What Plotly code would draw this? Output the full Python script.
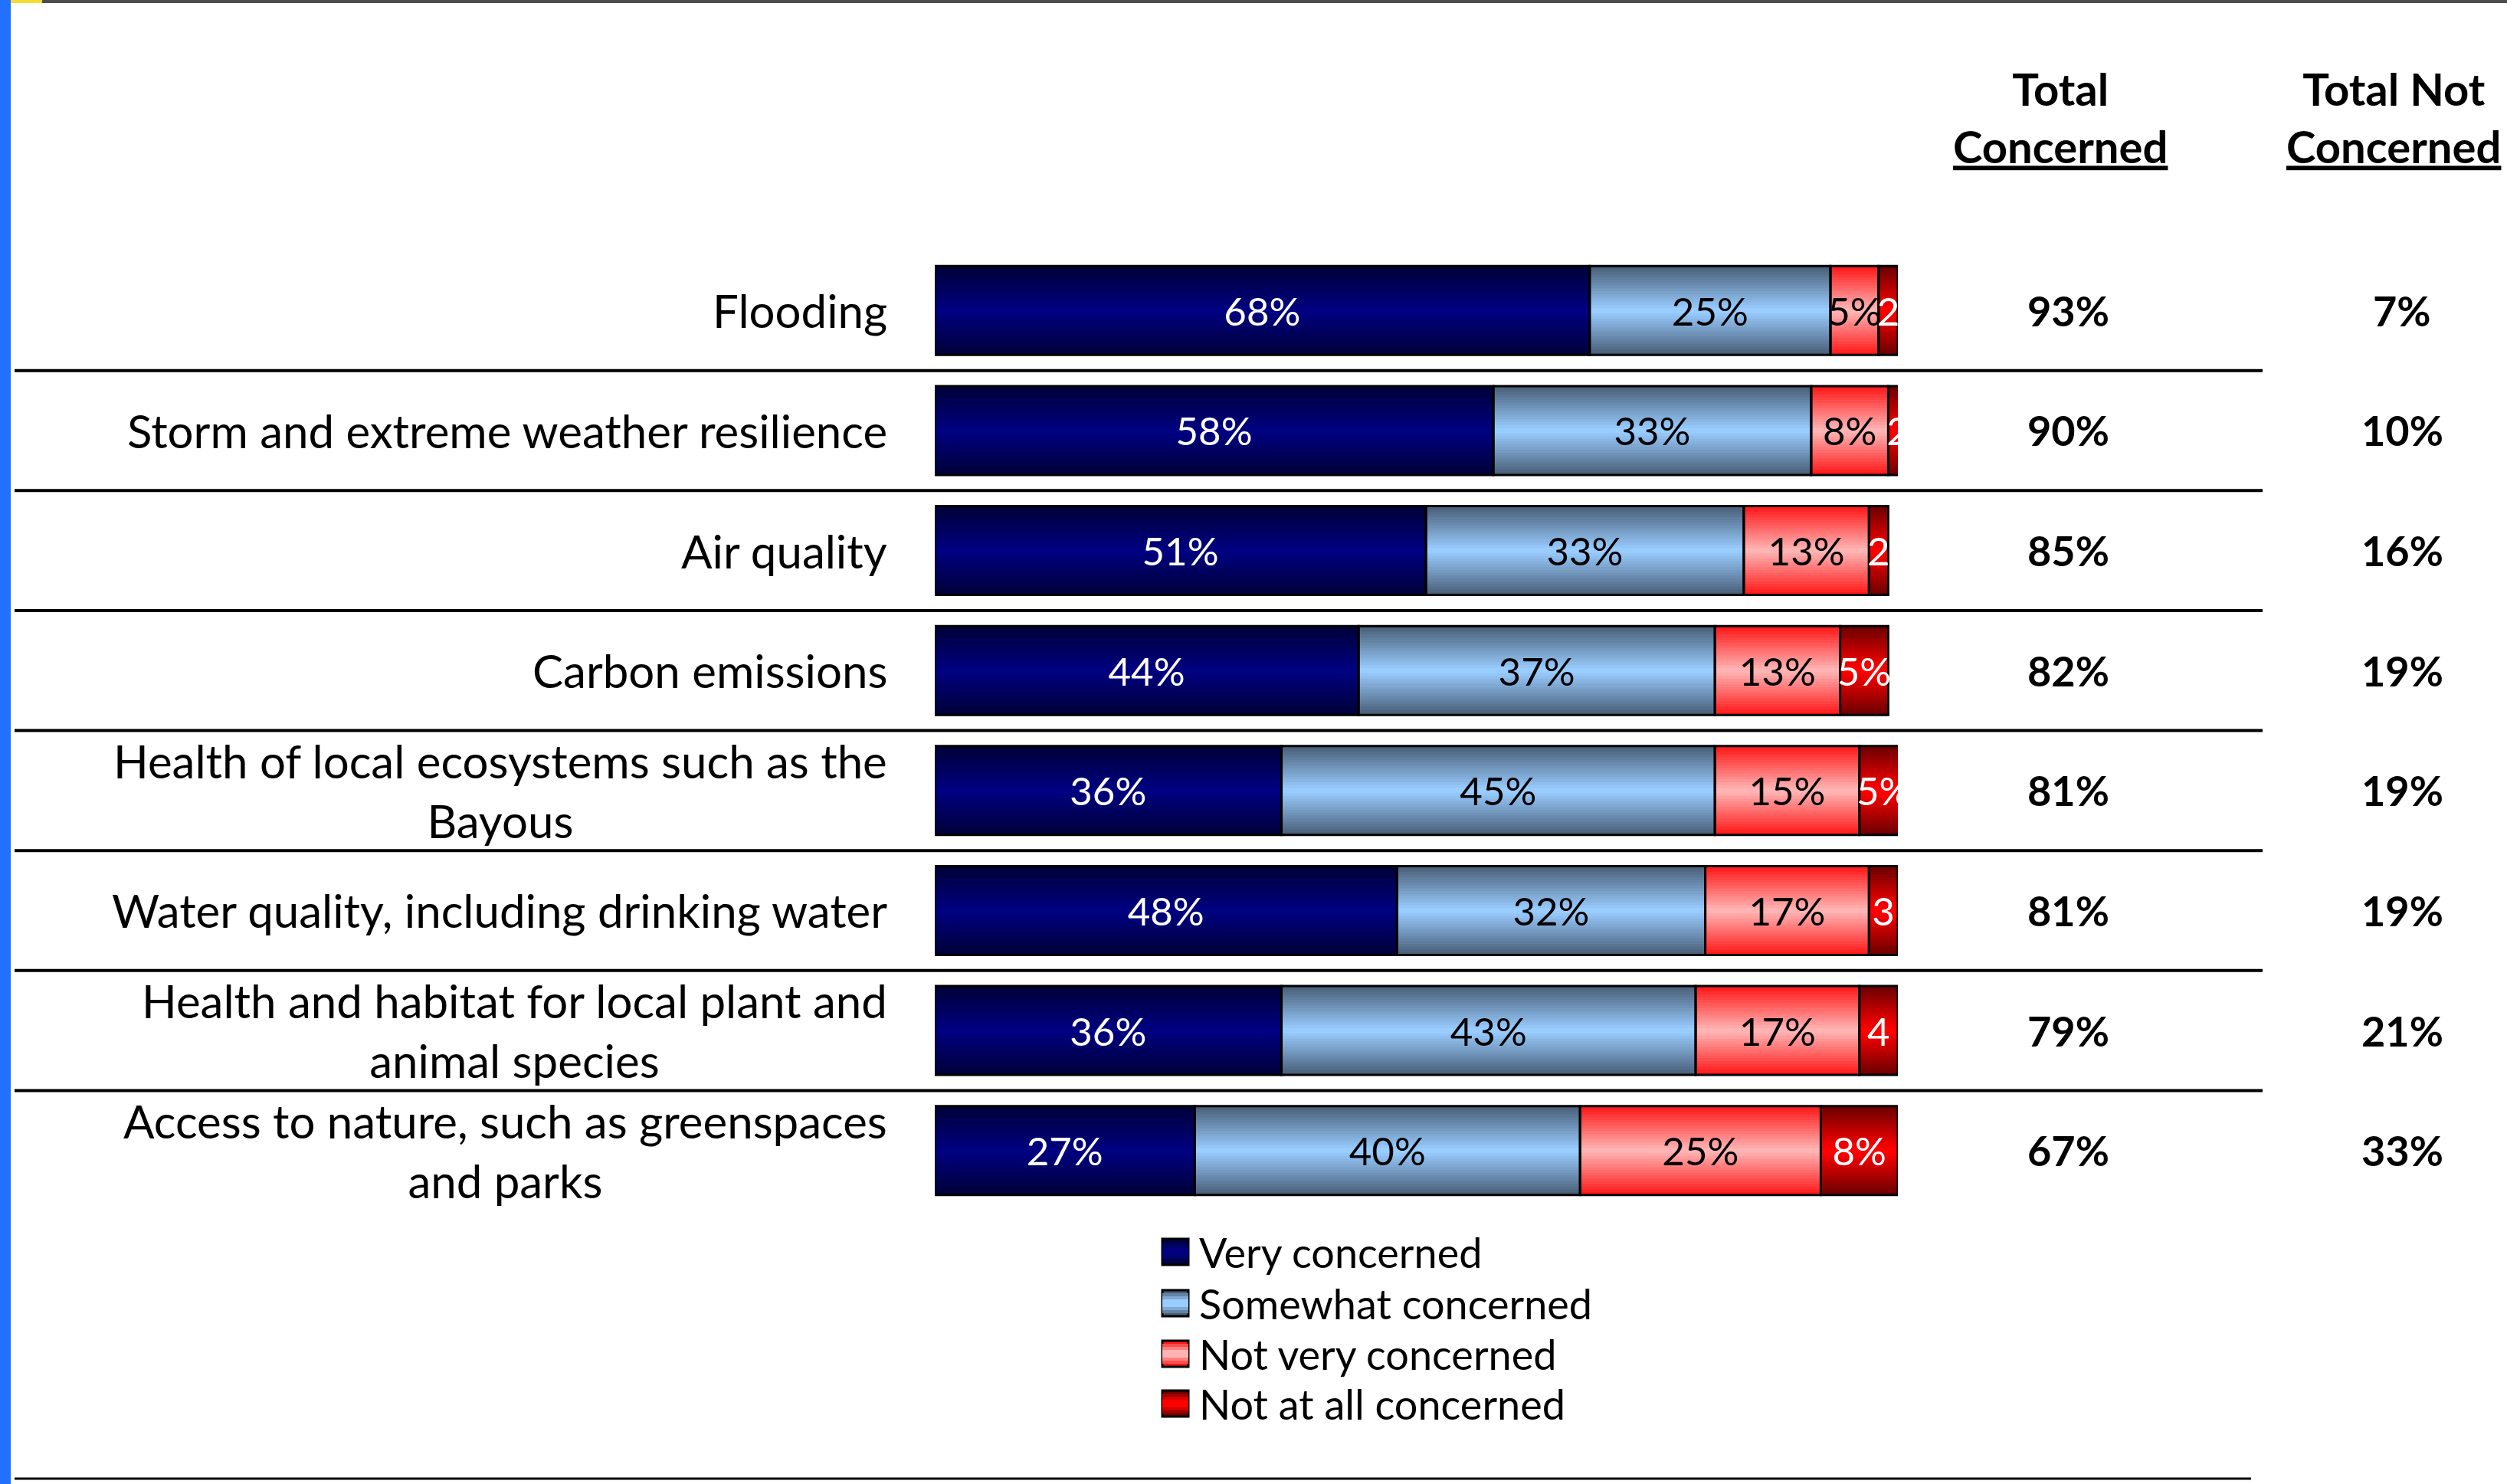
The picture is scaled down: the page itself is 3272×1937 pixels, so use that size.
import plotly.graph_objects as go

# ---- data -----------------------------------------------------------------
categories = [
    "Flooding",
    "Storm and extreme weather resilience",
    "Air quality",
    "Carbon emissions",
    "Health of local ecosystems such as the<br>Bayous",
    "Water quality, including drinking water",
    "Health and habitat for local plant and<br>animal species",
    "Access to nature, such as greenspaces<br>and parks",
]
very_concerned = [68, 58, 51, 44, 36, 48, 36, 27]
somewhat_concerned = [25, 33, 33, 37, 45, 32, 43, 40]
not_very_concerned = [5, 8, 13, 13, 15, 17, 17, 25]
not_at_all_concerned = [2, 2, 2, 5, 5, 3, 4, 8]
total_concerned = [93, 90, 85, 82, 81, 81, 79, 67]
total_not_concerned = [7, 10, 16, 19, 19, 19, 21, 33]
series_names = ["Very concerned", "Somewhat concerned", "Not very concerned", "Not at all concerned"]

# ---- canvas helpers ---------------------------------------------------------
W, H = 3272, 1937
FONT = "Lato, 'Noto Sans', sans-serif"


def px_x(v):
    return v / W


def px_y(v):
    return 1 - v / H


def hex_to_rgb(h):
    h = h.lstrip("#")
    return tuple(int(h[i:i + 2], 16) for i in (0, 2, 4))


def blend(c1, c2, t):
    a, b = hex_to_rgb(c1), hex_to_rgb(c2)
    r = [round(a[i] + (b[i] - a[i]) * t) for i in range(3)]
    return "rgb(%d,%d,%d)" % tuple(r)


# edge colour, centre colour, label colour for each response
styles = [
    ("#00003a", "#000080", "white"),
    ("#4a6079", "#99ccff", "black"),
    ("#ff1a1a", "#ffb3b3", "black"),
    ("#6e0000", "#ff0000", "white"),
]
series_values = [very_concerned, somewhat_concerned, not_very_concerned, not_at_all_concerned]

BAR_W = 0.74
LAYERS = 16

fig = go.Figure()

# stacked segments, each built from nested bands to give a vertical shading
bases = [0] * len(categories)
seg_bases = []
for vals in series_values:
    seg_bases.append(list(bases))
    bases = [b + v for b, v in zip(bases, vals)]

for (edge, centre, _), vals, base in zip(styles, series_values, seg_bases):
    for k in range(LAYERS):
        t = k / (LAYERS - 1)
        fig.add_trace(go.Bar(
            y=categories, x=vals, base=base, orientation="h",
            width=BAR_W * (1 - k / LAYERS),
            marker=dict(color=blend(edge, centre, t), line=dict(width=0)),
            showlegend=False, hoverinfo="skip",
        ))


def fmt(v):
    return f"{v}%" if v >= 5 else f"{v}"


# outlines and value labels on top
for (edge, centre, tcol), vals, base, name in zip(styles, series_values, seg_bases, series_names):
    fig.add_trace(go.Bar(
        y=categories, x=vals, base=base, orientation="h", width=BAR_W,
        name=name,
        marker=dict(color="rgba(0,0,0,0)", line=dict(color="black", width=3)),
        text=[fmt(v) for v in vals],
        textposition="inside", insidetextanchor="middle", textangle=0,
        constraintext="none",
        textfont=dict(family=FONT, size=51, color=tcol),
        showlegend=False, hoverinfo="skip",
    ))

annotations = []
shapes = []

# category labels
for cat in categories:
    annotations.append(dict(
        x=px_x(1160), xref="paper", y=cat, yref="y",
        text=cat, xanchor="right", yanchor="middle", align="center",
        showarrow=False, font=dict(family=FONT, size=60, color="black"),
    ))

# total columns
for cat, tc, tn in zip(categories, total_concerned, total_not_concerned):
    annotations.append(dict(
        x=px_x(2699), xref="paper", y=cat, yref="y", text=f"<b>{tc}%</b>",
        showarrow=False, xanchor="center", yanchor="middle",
        font=dict(family=FONT, size=54, color="black"),
    ))
    annotations.append(dict(
        x=px_x(3135), xref="paper", y=cat, yref="y", text=f"<b>{tn}%</b>",
        showarrow=False, xanchor="center", yanchor="middle",
        font=dict(family=FONT, size=54, color="black"),
    ))

for label, cx in (("Total<br><u>Concerned</u>", 2689), ("Total Not<br><u>Concerned</u>", 3124)):
    annotations.append(dict(
        x=px_x(cx), xref="paper", y=px_y(153), yref="paper", text=f"<b>{label}</b>",
        showarrow=False, xanchor="center", yanchor="middle", align="center",
        font=dict(family=FONT, size=58, color="black"),
    ))

# row separators
for i in range(len(categories) - 1):
    shapes.append(dict(
        type="line", xref="paper", yref="y",
        x0=px_x(19), x1=px_x(2953), y0=i + 0.5, y1=i + 0.5,
        line=dict(color="black", width=4),
    ))
shapes.append(dict(
    type="line", xref="paper", yref="paper",
    x0=px_x(19), x1=px_x(2938), y0=px_y(1930), y1=px_y(1930),
    line=dict(color="black", width=3),
))

# frame accents
shapes.append(dict(type="rect", xref="paper", yref="paper", x0=0, x1=px_x(14), y0=0, y1=1,
                   fillcolor="#2170ff", line=dict(width=0)))
shapes.append(dict(type="rect", xref="paper", yref="paper", x0=px_x(14), x1=1, y0=px_y(4), y1=1,
                   fillcolor="#4d4d4d", line=dict(width=0)))
shapes.append(dict(type="rect", xref="paper", yref="paper", x0=px_x(14), x1=px_x(55), y0=px_y(4), y1=1,
                   fillcolor="#f5dc32", line=dict(width=0)))

# legend
legend_y = [1634, 1701, 1767, 1832]
for (edge, centre, _), name, ly in zip(styles, series_names, legend_y):
    steps = 4
    for k in range(steps):
        inset = k * 4
        shapes.append(dict(
            type="rect", xref="paper", yref="paper",
            x0=px_x(1517), x1=px_x(1551),
            y0=px_y(ly + 17 - inset), y1=px_y(ly - 17 + inset),
            fillcolor=blend(edge, centre, k / (steps - 1)),
            line=dict(color="black", width=3 if k == 0 else 0),
        ))
    annotations.append(dict(
        x=px_x(1563), xref="paper", y=px_y(ly), yref="paper", text=name,
        showarrow=False, xanchor="left", yanchor="middle",
        font=dict(family=FONT, size=54, color="black"),
    ))

fig.update_layout(
    width=W, height=H,
    margin=dict(l=0, r=0, t=0, b=0),
    paper_bgcolor="white", plot_bgcolor="rgba(0,0,0,0)",
    barmode="overlay", showlegend=False,
    xaxis=dict(domain=[px_x(1220), px_x(2477)], range=[0, 100], visible=False, fixedrange=True),
    yaxis=dict(domain=[px_y(1580), px_y(327)], type="category",
               categoryorder="array", categoryarray=categories,
               range=[len(categories) - 0.5, -0.5], visible=False, fixedrange=True),
    annotations=annotations, shapes=shapes,
)

fig.write_html("out.html")
